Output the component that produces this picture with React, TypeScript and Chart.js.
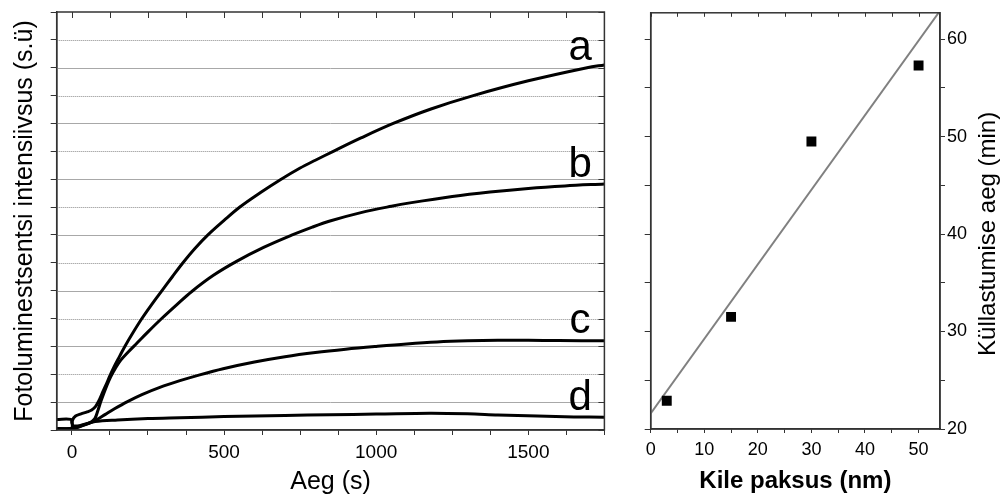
import React, { useEffect, useRef } from "react";
import { Chart, registerables } from "chart.js";

Chart.register(...registerables);

const FONT = '"Liberation Sans", Arial, Helvetica, sans-serif';

// ---------- Left panel: photoluminescence intensity vs time ----------
const aTime = [-50, -2, 2, 12, 30, 50, 65, 78, 90, 100, 112, 125, 140, 157, 174, 200, 230, 262, 296, 330, 365, 405, 447, 500, 552, 620, 685, 750, 800, 859, 950, 1056, 1180, 1319, 1500, 1693, 1750];
const aValue = [0.05, 0.05, 0.35, 0.5, 0.58, 0.65, 0.72, 0.85, 1.08, 1.33, 1.62, 1.95, 2.3, 2.65, 3.0, 3.48, 4.0, 4.5, 5.0, 5.5, 6.0, 6.52, 7.0, 7.52, 8.0, 8.52, 8.98, 9.4, 9.68, 10.0, 10.48, 11.0, 11.52, 12.0, 12.53, 13.0, 13.1];

const bTime = [-50, -2, 10, 30, 50, 65, 76, 86, 95, 105, 115, 127, 142, 160, 185, 214, 250, 295, 345, 395, 465, 541, 630, 720, 790, 848, 950, 1050, 1111, 1250, 1374, 1500, 1620, 1750];
const bValue = [0.05, 0.05, 0.07, 0.14, 0.22, 0.3, 0.42, 0.72, 1.02, 1.32, 1.6, 1.9, 2.2, 2.5, 2.8, 3.12, 3.52, 4.0, 4.5, 4.98, 5.55, 6.05, 6.55, 6.98, 7.28, 7.5, 7.8, 8.03, 8.15, 8.38, 8.54, 8.67, 8.76, 8.83];

const cTime = [-50, -2, 10, 36, 60, 82, 110, 140, 181, 230, 289, 355, 420, 497, 600, 700, 800, 900, 1000, 1100, 1200, 1300, 1400, 1500, 1600, 1750];
const cValue = [0.05, 0.05, 0.07, 0.17, 0.26, 0.37, 0.56, 0.76, 1.01, 1.27, 1.53, 1.77, 1.98, 2.2, 2.44, 2.63, 2.78, 2.9, 3.0, 3.09, 3.16, 3.2, 3.22, 3.22, 3.21, 3.2];

const dTime = [-50, -3, 0, 5, 30, 76, 150, 250, 355, 500, 700, 848, 1000, 1177, 1300, 1400, 1530, 1650, 1750];
const dValue = [0.38, 0.38, 0.25, 0.15, 0.17, 0.3, 0.36, 0.41, 0.44, 0.48, 0.52, 0.55, 0.57, 0.6, 0.58, 0.54, 0.5, 0.47, 0.46];

const curveNames = ["a", "b", "c", "d"];
const curveLabelX = [1670, 1670, 1670, 1670];
const curveLabelY = [13.28, 9.08, 3.48, 0.72];

const leftXMin = -50;
const leftXMax = 1750;
const leftXTicks = [0, 125, 250, 375, 500, 625, 750, 875, 1000, 1125, 1250, 1375, 1500, 1625, 1750];
const leftXLabels = [0, 500, 1000, 1500];
const leftYMin = 0;
const leftYMax = 15;
const leftYTicks = [0, 1, 2, 3, 4, 5, 6, 7, 8, 9, 10, 11, 12, 13, 14, 15];

// ---------- Right panel: saturation time vs film thickness ----------
const thickness = [3, 15, 30, 50];
const saturationTime = [22.9, 31.5, 49.5, 57.3];
const fitThickness = [0, 54];
const fitTime = [21.6, 62.9];

const rightXMin = 0;
const rightXMax = 54;
const rightXTicks = [0, 5, 10, 15, 20, 25, 30, 35, 40, 45, 50];
const rightXLabels = [0, 10, 20, 30, 40, 50];
const rightYMin = 20;
const rightYMax = 62.7;
const rightYTicks = [20, 25, 30, 35, 40, 45, 50, 55, 60];
const rightYLabels = [20, 30, 40, 50, 60];

const AXIS = "#333333";

const pairs = (xs: number[], ys: number[]) => xs.map((x, i) => ({ x, y: ys[i] }));
const setTicks = (vals: number[]) => (scale: any) => {
  scale.ticks = vals.map((v) => ({ value: v }));
};
const labelOnly = (vals: number[]) => (value: any) => (vals.includes(Number(value)) ? String(value) : "");

const gridPlugin = {
  id: "hgrid",
  beforeDatasetsDraw(chart: any, _args: any, opts: any) {
    if (!opts || !opts.enabled) return;
    const { ctx, chartArea } = chart;
    const ys = chart.scales.y;
    ctx.save();
    ctx.lineWidth = 1;
    ys.ticks.forEach((t: any) => {
      const v = t.value;
      if (v === leftYMin || v === leftYMax) return;
      const py = Math.round(ys.getPixelForValue(v)) + 0.5;
      if (v % 2 === 1) {
        ctx.setLineDash([]);
        ctx.strokeStyle = "#a8a8a8";
      } else {
        ctx.setLineDash([1, 1]);
        ctx.strokeStyle = "#8a8a8a";
      }
      ctx.beginPath();
      ctx.moveTo(chartArea.left, py);
      ctx.lineTo(chartArea.right, py);
      ctx.stroke();
    });
    ctx.restore();
  },
};

const framePlugin = {
  id: "frame",
  afterDraw(chart: any, _args: any, opts: any) {
    const { ctx, chartArea } = chart;
    const { left, right, top, bottom } = chartArea;
    ctx.save();
    ctx.strokeStyle = AXIS;
    ctx.lineWidth = 1.5;
    ctx.strokeRect(left, top, right - left, bottom - top);
    ctx.lineWidth = 1;
    if (opts.topTicks) {
      const xs = chart.scales.x;
      xs.ticks.forEach((t: any) => {
        const px = Math.round(xs.getPixelForValue(t.value)) + 0.5;
        ctx.beginPath();
        ctx.moveTo(px, top);
        ctx.lineTo(px, top + opts.topTicks);
        ctx.stroke();
      });
    }
    if (opts.rightTicks) {
      const ys = chart.scales.y;
      ys.ticks.forEach((t: any) => {
        const py = Math.round(ys.getPixelForValue(t.value)) + 0.5;
        ctx.beginPath();
        ctx.moveTo(right, py);
        ctx.lineTo(right - opts.rightTicks, py);
        ctx.stroke();
      });
    }
    ctx.restore();
  },
};

const curveLabelPlugin = {
  id: "curveLabels",
  afterDatasetsDraw(chart: any, _args: any, opts: any) {
    if (!opts || !opts.enabled) return;
    const { ctx } = chart;
    const xs = chart.scales.x;
    const ys = chart.scales.y;
    ctx.save();
    ctx.fillStyle = "#000";
    ctx.font = `42px ${FONT}`;
    ctx.textAlign = "center";
    ctx.textBaseline = "alphabetic";
    curveNames.forEach((n, i) => {
      ctx.fillText(n, xs.getPixelForValue(curveLabelX[i]), ys.getPixelForValue(curveLabelY[i]));
    });
    ctx.restore();
  },
};

const rightTitlePlugin = {
  id: "rightTitle",
  afterDraw(chart: any, _args: any, opts: any) {
    if (!opts || !opts.enabled) return;
    const { ctx, chartArea } = chart;
    ctx.save();
    ctx.fillStyle = "#000";
    ctx.font = `24px ${FONT}`;
    ctx.textAlign = "center";
    ctx.textBaseline = "middle";
    ctx.translate(chart.width - 15, (chartArea.top + chartArea.bottom) / 2 + 13);
    ctx.rotate(-Math.PI / 2);
    ctx.fillText("Küllastumise aeg (min)", 0, 0);
    ctx.restore();
  },
};

export default function App() {
  const leftRef = useRef<HTMLCanvasElement>(null);
  const rightRef = useRef<HTMLCanvasElement>(null);

  useEffect(() => {
    Chart.defaults.font.family = FONT;
    Chart.defaults.color = "#000";

    const lineDs = (xs: number[], ys: number[]) => ({
      data: pairs(xs, ys),
      borderColor: "#000",
      borderWidth: 3,
      pointRadius: 0,
      fill: false,
      tension: 0.35,
    });

    const left = new Chart(leftRef.current as HTMLCanvasElement, {
      type: "line",
      data: {
        datasets: [lineDs(aTime, aValue), lineDs(bTime, bValue), lineDs(cTime, cValue), lineDs(dTime, dValue)],
      },
      options: {
        responsive: false,
        animation: false,
        devicePixelRatio: 1,
        layout: { padding: { top: 12, right: 20.6, left: 0, bottom: 0 } },
        plugins: {
          legend: { display: false },
          tooltip: { enabled: false },
          frame: { topTicks: 6, rightTicks: 6 },
          hgrid: { enabled: true },
          curveLabels: { enabled: true },
        } as any,
        scales: {
          x: {
            type: "linear",
            min: leftXMin,
            max: leftXMax,
            afterBuildTicks: setTicks(leftXTicks),
            afterFit: (s: any) => {
              s.height = 67;
            },
            grid: { drawOnChartArea: false, tickLength: 5, tickColor: AXIS, color: AXIS },
            border: { color: AXIS, width: 1.5 },
            ticks: { callback: labelOnly(leftXLabels), font: { size: 19 }, padding: 6, maxRotation: 0, autoSkip: false },
            title: { display: true, text: "Aeg (s)", font: { size: 25 }, padding: { top: 0, bottom: 0 } },
          },
          y: {
            type: "linear",
            min: leftYMin,
            max: leftYMax,
            afterBuildTicks: setTicks(leftYTicks),
            afterFit: (s: any) => {
              s.width = 56.7;
            },
            grid: { drawOnChartArea: false, tickColor: AXIS, color: AXIS, tickLength: 6 },
            border: { color: AXIS, width: 1.5 },
            ticks: { display: false },
            title: {
              display: true,
              text: "Fotoluminestsentsi intensiivsus (s.ü)",
              font: { size: 25 },
              padding: { top: 10, bottom: 0 },
            },
          },
        },
      },
      plugins: [gridPlugin, framePlugin, curveLabelPlugin],
    } as any);

    const right = new Chart(rightRef.current as HTMLCanvasElement, {
      type: "scatter",
      data: {
        datasets: [
          {
            type: "line",
            data: pairs(fitThickness, fitTime),
            borderColor: "#808080",
            borderWidth: 2,
            pointRadius: 0,
            yAxisID: "y",
            order: 2,
          },
          {
            type: "scatter",
            data: pairs(thickness, saturationTime),
            backgroundColor: "#000",
            borderColor: "#000",
            pointStyle: "rect",
            pointRadius: 7,
            borderWidth: 0,
            yAxisID: "y",
            order: 1,
          },
        ],
      },
      options: {
        responsive: false,
        animation: false,
        devicePixelRatio: 1,
        layout: { padding: { top: 11.7, right: 0, left: 0, bottom: 0 } },
        plugins: {
          legend: { display: false },
          tooltip: { enabled: false },
          frame: { topTicks: 4 },
          rightTitle: { enabled: true },
        } as any,
        scales: {
          x: {
            type: "linear",
            min: rightXMin,
            max: rightXMax,
            afterBuildTicks: setTicks(rightXTicks),
            afterFit: (s: any) => {
              s.height = 68;
            },
            grid: { drawOnChartArea: false, tickLength: 4, tickColor: AXIS, color: AXIS },
            border: { color: AXIS, width: 1.5 },
            ticks: { callback: labelOnly(rightXLabels), font: { size: 18 }, padding: 6, maxRotation: 0, autoSkip: false },
            title: {
              display: true,
              text: "Kile paksus (nm)",
              font: { size: 24, weight: "bold" },
              padding: { top: 0, bottom: 1 },
            },
          },
          yl: {
            type: "linear",
            position: "left",
            min: rightYMin,
            max: rightYMax,
            afterBuildTicks: setTicks(rightYTicks),
            afterFit: (s: any) => {
              s.width = 25.7;
            },
            grid: { drawOnChartArea: false, tickLength: 6, tickColor: AXIS, color: AXIS },
            border: { color: AXIS, width: 1.5 },
            ticks: { display: false },
          },
          y: {
            type: "linear",
            position: "right",
            min: rightYMin,
            max: rightYMax,
            afterBuildTicks: setTicks(rightYTicks),
            afterFit: (s: any) => {
              s.width = 63;
            },
            grid: { drawOnChartArea: false, tickLength: 5, tickColor: AXIS, color: AXIS },
            border: { color: AXIS, width: 1.5 },
            ticks: { callback: labelOnly(rightYLabels), font: { size: 18 }, padding: 2, autoSkip: false },
          },
        },
      },
      plugins: [framePlugin, rightTitlePlugin],
    } as any);

    return () => {
      left.destroy();
      right.destroy();
    };
  }, []);

  return (
    <div style={{ position: "absolute", left: 0, top: 0, width: 1003, height: 497, background: "#fff" }}>
      <canvas
        ref={leftRef}
        width={625}
        height={497}
        style={{ position: "absolute", left: 0, top: 0, width: 625, height: 497 }}
      />
      <canvas
        ref={rightRef}
        width={378}
        height={497}
        style={{ position: "absolute", left: 625, top: 0, width: 378, height: 497 }}
      />
    </div>
  );
}
